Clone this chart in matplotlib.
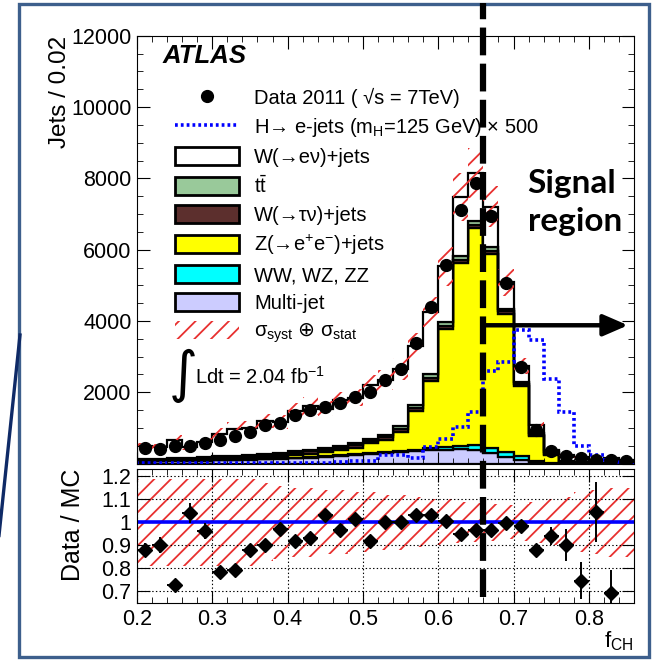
import numpy as np
import matplotlib.pyplot as plt
from matplotlib.patches import Patch, Rectangle
from matplotlib.lines import Line2D

plt.rcParams['font.family'] = ['Liberation Sans', 'DejaVu Sans']
plt.rcParams['mathtext.fontset'] = 'custom'
plt.rcParams['mathtext.rm'] = 'Liberation Sans'
plt.rcParams['mathtext.it'] = 'Liberation Sans:italic'
plt.rcParams['mathtext.bf'] = 'Liberation Sans:bold'
plt.rcParams['mathtext.sf'] = 'DejaVu Sans'
plt.rcParams['hatch.linewidth'] = 1.3
plt.rcParams['lines.scale_dashes'] = False

# f_CH bins of width 0.02 from 0.20 to 0.86
edges = np.round(np.arange(0.20, 0.8601, 0.02), 2)
centers = edges[:-1] + 0.01

# events per bin
data = [430, 410, 490, 490, 575, 650, 770, 880, 1070, 1130, 1350, 1500, 1590, 1710,
        1880, 2020, 2340, 2650, 3390, 4380, 5560, 7100, 7870, 6950, 5060, 2700, 950,
        350, 210, 145, 115, 100, 80]
multijet = [55, 60, 65, 70, 80, 90, 100, 110, 125, 140, 155, 170, 190, 210, 235, 260,
            290, 320, 350, 375, 390, 400, 395, 290, 190, 100, 35, 10, 5, 0, 0, 0, 0]
diboson = [5, 5, 6, 6, 7, 8, 9, 10, 11, 12, 14, 15, 17, 19, 21, 24, 28, 35, 45, 60, 80,
           105, 115, 135, 140, 100, 40, 15, 5, 2, 0, 0, 0]
zee = [20, 22, 25, 28, 32, 36, 42, 50, 55, 60, 75, 95, 120, 150, 190, 280, 340, 530,
       1070, 1890, 3310, 5120, 6110, 5460, 3880, 1970, 700, 230, 25, 8, 3, 2, 1]
wtaunu = [25, 27, 29, 31, 34, 37, 40, 44, 48, 52, 56, 60, 64, 68, 72, 76, 80, 84, 88,
          90, 90, 85, 80, 75, 65, 55, 40, 25, 15, 10, 7, 5, 3]
ttbar = [20, 22, 24, 26, 28, 30, 32, 34, 36, 38, 40, 42, 46, 50, 55, 60, 68, 75, 85, 95,
         100, 110, 105, 110, 65, 60, 50, 40, 30, 20, 15, 10, 8]
wenu = [364, 319, 527, 310, 418, 627, 752, 752, 914, 863, 1127, 1231, 1107, 1275, 1279,
        1496, 1534, 1606, 1653, 1742, 1562, 1654, 1350, 1132, 745, 456, 215, 52, 153,
        155, 85, 128, 83]
# H -> e-jets signal x 500
signal = [20, 20, 20, 20, 20, 20, 20, 20, 20, 20, 20, 20, 25, 50, 70, 70, 240, 240, 145,
          460, 690, 1030, 1440, 2610, 2860, 3740, 3470, 2360, 1450, 480, 250, 100, 35]
# relative syst+stat uncertainty on the MC
rel_unc = [0.19, 0.19, 0.19, 0.19, 0.19, 0.19, 0.19, 0.19, 0.17, 0.16, 0.15, 0.15, 0.14,
           0.14, 0.13, 0.13, 0.12, 0.12, 0.11, 0.10, 0.10, 0.09, 0.085, 0.08, 0.075,
           0.08, 0.09, 0.10, 0.11, 0.13, 0.14, 0.15, 0.15]
# Data / MC ratio points
ratio_x = centers[:32]
ratio = [0.88, 0.90, 0.725, 1.04, 0.96, 0.785, 0.79, 0.88, 0.90, 0.97, 0.92, 0.93, 1.03,
         0.965, 1.015, 0.92, 1.0, 1.0, 1.03, 1.03, 1.005, 0.95, 0.965, 0.965, 0.995,
         0.985, 0.88, 0.94, 0.90, 0.745, 1.045, 0.69]
ratio_err = [0.03, 0.035, 0.015, 0.045, 0.035, 0.015, 0.015, 0.015, 0.015, 0.015, 0.015,
             0.015, 0.015, 0.015, 0.015, 0.015, 0.015, 0.015, 0.015, 0.015, 0.015, 0.015,
             0.015, 0.015, 0.015, 0.015, 0.015, 0.04, 0.07, 0.08, 0.13, 0.1]

stack = [
    (multijet, '#ccccff', 'Multi-jet'),
    (diboson, '#00ffff', 'WW, WZ, ZZ'),
    (zee, '#ffff00', 'Z(\u2192e$^{+}$e$^{-}$)+jets'),
    (wtaunu, '#5c2f2d', 'W(\u2192\u03c4\u03bd)+jets'),
    (ttbar, '#99c99a', 't$\\bar{\\mathrm{t}}$'),
    (wenu, '#ffffff', 'W(\u2192e\u03bd)+jets'),
]
hatch_red = '#e8302f'

fig = plt.figure(figsize=(6.52, 6.64), dpi=100)
ax = fig.add_axes([0.2101, 0.3018, 0.7623, 0.6443])
axr = fig.add_axes([0.2101, 0.0919, 0.7623, 0.2018])

# stacked backgrounds
bottom = np.zeros(len(centers))
for vals, col, lab in stack:
    top = bottom + np.array(vals)
    ax.stairs(top, edges, baseline=bottom, fill=True, facecolor=col,
              edgecolor='black', linewidth=1.6)
    bottom = top
mc_total = bottom
unc = mc_total * np.array(rel_unc)
ax.stairs(mc_total + unc, edges, baseline=mc_total - unc, fill=True,
          facecolor='none', edgecolor=hatch_red, hatch='//', linewidth=0)
ax.stairs(signal, edges, color='#0000ff', linestyle=(0, (2, 2.2)), linewidth=2.6)
ax.plot(centers, data, 'o', color='black', markersize=8.5)

ax.set_xlim(0.2, 0.86)
ax.set_ylim(0, 12000)
ax.set_yticks([0, 2000, 4000, 6000, 8000, 10000, 12000])
ax.set_yticklabels(['', '2000', '4000', '6000', '8000', '10000', '12000'])
ax.set_yticks(np.arange(0, 12001, 500), minor=True)
ax.set_xticks(np.arange(0.2, 0.861, 0.1))
ax.set_xticks(np.arange(0.2, 0.861, 0.02), minor=True)
ax.tick_params(which='both', direction='in', top=True, right=True,
               labelbottom=False, labelsize=15.5, pad=4)
ax.tick_params(which='major', length=9)
ax.tick_params(which='minor', length=4.5)
ax.set_ylabel('Jets / 0.02', fontsize=17.5, loc='top', labelpad=0)

ax.text(0.052, 0.98, 'ATLAS', transform=ax.transAxes, fontsize=18.5,
        fontweight='bold', fontstyle='italic', va='top')

handles = [
    Line2D([], [], marker='o', color='black', linestyle='none', markersize=8.5),
    Line2D([], [], color='#0000ff', linestyle=(0, (2, 2.2)), linewidth=2.6),
]
labels = ['Data 2011 ( \u221as = 7TeV)',
          'H\u2192 e-jets (m$_{\\mathrm{H}}$=125 GeV) \u00d7 500']
for vals, col, lab in stack[::-1]:
    handles.append(Patch(facecolor=col, edgecolor='black', linewidth=2))
    labels.append(lab)
handles.append(Patch(facecolor='none', edgecolor=hatch_red, hatch='//', linewidth=0))
labels.append('\u03c3$_{\\mathrm{syst}}$ $\\mathsf{\\oplus}$ \u03c3$_{\\mathrm{stat}}$')
ax.legend(handles, labels, loc='upper left', bbox_to_anchor=(0.076, 0.878),
          frameon=False, fontsize=14.5, borderpad=0, borderaxespad=0,
          handlelength=3.2, handleheight=1.0, handletextpad=0.75,
          labelspacing=0.4)

ax.text(0.064, 0.205, '\u222b', transform=ax.transAxes, fontsize=40,
        family='DejaVu Sans', va='center')
ax.text(0.116, 0.203, 'Ldt = 2.04 fb$^{-1}$', transform=ax.transAxes,
        fontsize=14.5, va='center')

ax.annotate('', xy=(0.852, 3880), xytext=(0.66, 3880),
            arrowprops=dict(arrowstyle='-|>,head_length=1.5,head_width=0.65',
                            color='black', lw=3.2, shrinkA=0, shrinkB=0))
ax.text(0.785, 0.632, 'Signal', transform=ax.transAxes, fontsize=24,
        family='Lato', fontweight='bold', ha='left', va='baseline')
ax.text(0.787, 0.543, 'region', transform=ax.transAxes, fontsize=24,
        family='Lato', fontweight='bold', ha='left', va='baseline')

# ratio panel
axr.stairs(1 + np.array(rel_unc), edges, baseline=1 - np.array(rel_unc),
           fill=True, facecolor='none', edgecolor=hatch_red, hatch='//', linewidth=0)
axr.axhline(1.0, color='#0000ff', linewidth=2.6)
axr.errorbar(ratio_x, ratio, xerr=0.01, yerr=ratio_err, fmt='D', color='black',
             markersize=7.5, elinewidth=1.4, capsize=0)
axr.set_xlim(0.2, 0.86)
axr.set_ylim(0.648, 1.232)
axr.set_yticks([0.7, 0.8, 0.9, 1.0, 1.1, 1.2])
axr.set_yticklabels(['0.7', '0.8', '0.9', '1', '1.1', '1.2'])
axr.set_xticks(np.arange(0.2, 0.861, 0.1))
axr.set_xticklabels(['0.2', '0.3', '0.4', '0.5', '0.6', '0.7', '0.8'])
axr.set_xticks(np.arange(0.2, 0.861, 0.02), minor=True)
axr.tick_params(which='both', direction='in', top=True, right=True,
                labelsize=15.5, pad=4)
axr.tick_params(which='major', length=9)
axr.tick_params(which='minor', length=4.5)
axr.grid(True, which='major', linestyle=':', color='black', linewidth=0.8)
axr.set_ylabel('Data / MC', fontsize=18, loc='top', labelpad=12)
axr.set_xlabel('f$_{\\mathrm{CH}}$', fontsize=16, loc='right', labelpad=0)

# signal region cut line spanning both panels
x_fig = fig.transFigure.inverted().transform(ax.transData.transform((0.66, 0)))[0]
fig.add_artist(Line2D([x_fig, x_fig], [0.1015, 0.996], transform=fig.transFigure,
                      color='black', linewidth=4.5, linestyle=(0, (20, 6))))

# slide frame and connector line
fig.add_artist(Rectangle((18.5 / 652, 1 - 657 / 664), 630.5 / 652, 653 / 664,
                         transform=fig.transFigure, fill=False,
                         edgecolor='#3d5f8c', linewidth=2.4))
fig.add_artist(Line2D([20 / 652, -2 / 652], [1 - 335 / 664, 1 - 545 / 664],
                      transform=fig.transFigure, color='#0f2a66', linewidth=2.4))

fig.savefig('out.png', dpi=100)
